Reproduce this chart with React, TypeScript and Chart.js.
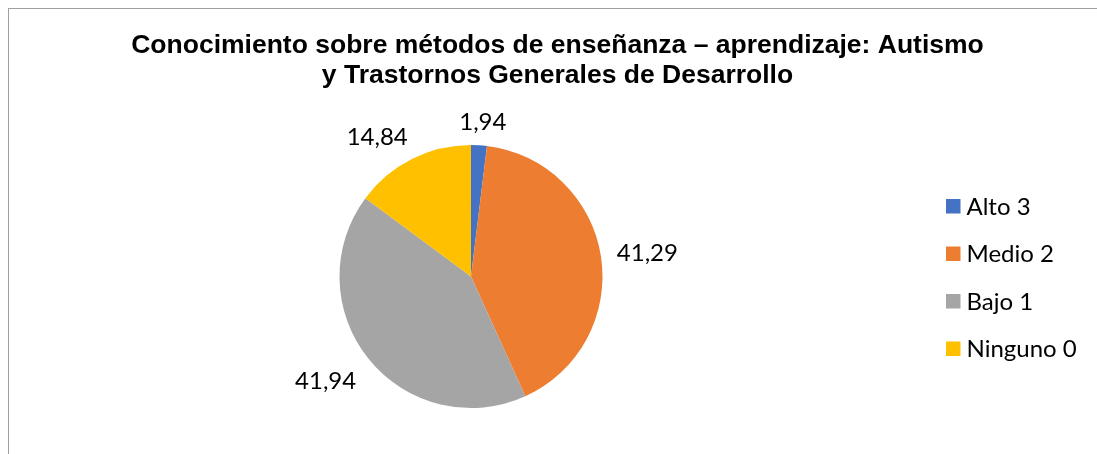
import { useEffect, useRef } from "react";
import { Chart, ArcElement, PieController } from "chart.js";

Chart.register(ArcElement, PieController);

const categories = ["Alto 3", "Medio 2", "Bajo 1", "Ninguno 0"];
const values = [1.94, 41.29, 41.94, 14.84];
const colors = ["#4472C4", "#ED7D31", "#A5A5A5", "#FFC000"];
const titleLines = [
  "Conocimiento sobre métodos de enseñanza – aprendizaje: Autismo",
  "y Trastornos Generales de Desarrollo",
];

const formatValue = (v: number) => v.toFixed(2).replace(".", ",");

const LABEL_FONT = '24px Lato, "Open Sans", sans-serif';
const TITLE_FONT = 'bold 26.5px "Liberation Sans", Arial, sans-serif';

const clamp = (v: number) => Math.max(-1, Math.min(1, v));

const titlePlugin = {
  id: "twoLineTitle",
  afterDraw(chart: any) {
    const ctx = chart.ctx as CanvasRenderingContext2D;
    ctx.save();
    ctx.font = TITLE_FONT;
    ctx.fillStyle = "#000";
    ctx.textAlign = "center";
    ctx.textBaseline = "middle";
    const lineHeight = 30;
    titleLines.forEach((line, i) => {
      ctx.fillText(line, chart.width / 2, 36.5 + i * lineHeight);
    });
    ctx.restore();
  },
};

const valueLabelPlugin = {
  id: "outsideLabels",
  afterDatasetsDraw(chart: any) {
    const ctx = chart.ctx as CanvasRenderingContext2D;
    const meta = chart.getDatasetMeta(0);
    ctx.save();
    ctx.font = LABEL_FONT;
    ctx.fillStyle = "#000";
    ctx.textAlign = "center";
    ctx.textBaseline = "middle";
    meta.data.forEach((arc: any, i: number) => {
      const { x, y, startAngle, endAngle, outerRadius } = arc.getProps(
        ["x", "y", "startAngle", "endAngle", "outerRadius"],
        true
      );
      const mid = (startAngle + endAngle) / 2;
      const ux = Math.cos(mid);
      const uy = Math.sin(mid);
      const text = formatValue(values[i]);
      const w = ctx.measureText(text).width;
      const h = 20;
      const gap = 16;
      const px = x + (outerRadius + gap) * ux + (clamp(ux * 2) * w) / 2;
      const py = y + (outerRadius + gap) * uy + (clamp(uy * 2) * h) / 2;
      ctx.fillText(text, px, py + 2.5);
    });
    ctx.restore();
  },
};

const legendPlugin = {
  id: "sideLegend",
  afterDraw(chart: any) {
    const ctx = chart.ctx as CanvasRenderingContext2D;
    const area = chart.chartArea;
    const cy = (area.top + area.bottom) / 2 + 1;
    const step = 47.5;
    const box = 14.5;
    const boxX = chart.width - 160;
    const textX = boxX + box + 6;
    ctx.save();
    ctx.font = LABEL_FONT;
    ctx.textAlign = "left";
    ctx.textBaseline = "alphabetic";
    categories.forEach((cat, i) => {
      const yc = cy + (i - (categories.length - 1) / 2) * step;
      ctx.fillStyle = colors[i];
      ctx.fillRect(boxX, yc - box / 2, box, box);
      ctx.fillStyle = "#000";
      ctx.fillText(cat, textX, yc + 8.5);
    });
    ctx.restore();
  },
};

export default function App() {
  const canvasRef = useRef<HTMLCanvasElement | null>(null);

  useEffect(() => {
    if (!canvasRef.current) return;
    const chart = new Chart(canvasRef.current, {
      type: "pie",
      data: {
        labels: categories,
        datasets: [
          {
            data: values,
            backgroundColor: colors,
            borderWidth: 0,
          },
        ],
      },
      options: {
        responsive: false,
        animation: false,
        devicePixelRatio: 1,
        layout: { padding: { top: 136, bottom: 47, left: 250, right: 423 } },
        plugins: {
          legend: { display: false },
          title: { display: false },
          tooltip: { enabled: false },
        },
      },
      plugins: [titlePlugin, valueLabelPlugin, legendPlugin],
    });
    return () => chart.destroy();
  }, []);

  return (
    <div
      style={{
        position: "fixed",
        left: 8,
        top: 8,
        width: 1089,
        height: 446,
        overflow: "hidden",
        background: "#fff",
      }}
    >
      <div
        style={{
          width: 1098,
          height: 460,
          boxSizing: "border-box",
          borderTop: "1px solid #a0a0a0",
          borderLeft: "1px solid #a0a0a0",
        }}
      >
        <canvas
          ref={canvasRef}
          width={1097}
          height={446}
          style={{ display: "block", width: 1097, height: 446 }}
        />
      </div>
    </div>
  );
}
